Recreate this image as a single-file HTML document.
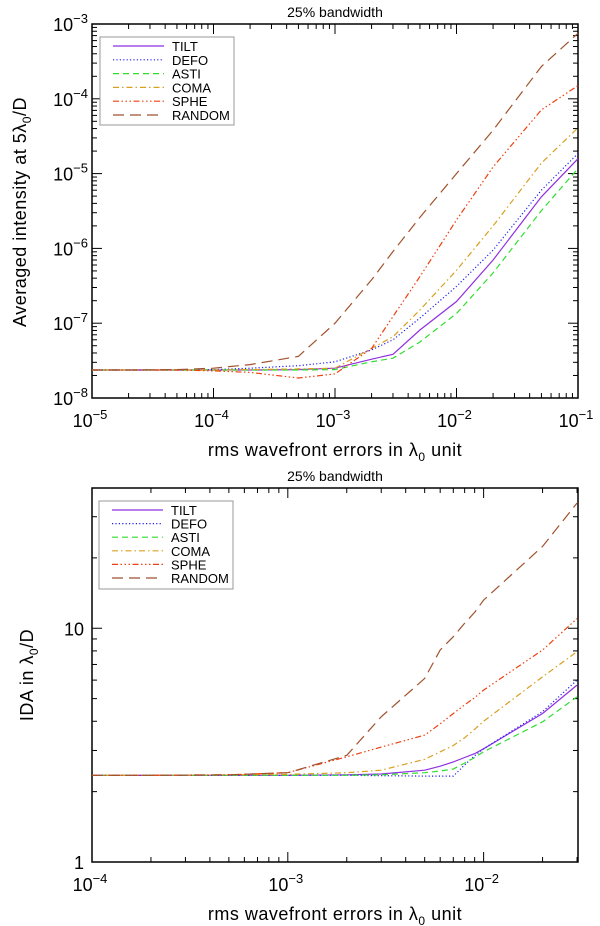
<!DOCTYPE html>
<html><head><meta charset="utf-8"><style>
body{margin:0;background:#fff;}
svg{display:block;font-family:"Liberation Sans","DejaVu Sans",sans-serif;}
</style></head><body>
<svg id="fig" width="600" height="926" viewBox="0 0 600 926"></svg>
<script>
// ---- data: top chart (averaged intensity) ----
const topX = [1e-5, 2e-5, 5e-5, 1e-4, 2e-4, 5e-4, 1e-3, 2e-3, 3e-3, 5e-3, 1e-2, 2e-2, 5e-2, 1e-1];
const topTilt   = [2.37e-8,2.37e-8,2.37e-8,2.37e-8,2.37e-8,2.4e-8,2.5e-8,3.3e-8,3.84e-8,8.1e-8,1.95e-7,7.0e-7,4.9e-6,1.58e-5];
const topDefo   = [2.37e-8,2.37e-8,2.37e-8,2.4e-8,2.5e-8,2.7e-8,3.05e-8,4.4e-8,6.0e-8,1.17e-7,3.1e-7,9.5e-7,6.0e-6,1.86e-5];
const topAsti   = [2.37e-8,2.37e-8,2.37e-8,2.37e-8,2.37e-8,2.37e-8,2.4e-8,3.05e-8,3.4e-8,5.6e-8,1.35e-7,4.7e-7,3.2e-6,1.17e-5];
const topComa   = [2.37e-8,2.37e-8,2.37e-8,2.37e-8,2.4e-8,2.45e-8,2.5e-8,4.6e-8,6.6e-8,1.5e-7,5.1e-7,2.0e-6,1.38e-5,4.1e-5];
const topSphe   = [2.37e-8,2.37e-8,2.37e-8,2.3e-8,2.2e-8,1.85e-8,2.1e-8,4.6e-8,1.23e-7,4.2e-7,2.4e-6,1.23e-5,7.1e-5,1.5e-4];
const topRandom = [2.37e-8,2.37e-8,2.4e-8,2.5e-8,2.8e-8,3.6e-8,1.0e-7,3.8e-7,9.1e-7,2.6e-6,1.0e-5,3.8e-5,2.7e-4,7.5e-4];
const topXTicks = ["-5","-4","-3","-2","-1"];
const topYTicks = ["-8","-7","-6","-5","-4","-3"];
// ---- data: bottom chart (IDA) ----
const botX = [1e-4, 2e-4, 5e-4, 1e-3, 2e-3, 3e-3, 5e-3, 6e-3, 7e-3, 8e-3, 9e-3, 1e-2, 2e-2, 3e-2];
const botTilt   = [2.35,2.35,2.35,2.35,2.36,2.38,2.47,2.57,2.68,2.8,2.91,3.05,4.32,5.71];
const botDefo   = [2.35,2.35,2.35,2.35,2.35,2.34,2.33,2.33,2.33,2.6,2.85,3.05,4.4,6.0];
const botAsti   = [2.35,2.35,2.35,2.35,2.35,2.36,2.41,2.45,2.5,2.65,2.8,2.96,3.98,5.09];
const botComa   = [2.35,2.35,2.36,2.37,2.41,2.47,2.75,2.96,3.15,3.4,3.7,4.0,6.2,7.94];
const botSphe   = [2.35,2.35,2.36,2.41,2.82,3.1,3.49,3.9,4.32,4.7,5.05,5.44,8.07,11.0];
const botRandom = [2.35,2.35,2.36,2.41,2.86,4.18,6.1,8.07,9.2,10.5,11.7,13.2,22.4,34.3];
const botXTicks = ["-4","-3","-2"];
const botYTicks = ["1","10"];

const NS="http://www.w3.org/2000/svg";
const svg=document.getElementById('fig');
function el(tag,attrs,parent){const e=document.createElementNS(NS,tag);for(const k in attrs)e.setAttribute(k,attrs[k]);(parent||svg).appendChild(e);return e;}
const L=Math.log10;

const styles={
 TILT:{c:"#9030e0",d:""},
 DEFO:{c:"#2020ee",d:"1.2,2.2"},
 ASTI:{c:"#30dd30",d:"6,4"},
 COMA:{c:"#d8a020",d:"6,3,1.5,3"},
 SPHE:{c:"#ee4010",d:"6,2.5,1.5,2.5,1.5,2.5,1.5,2.5"},
 RANDOM:{c:"#a0522d",d:"11,6"}
};

function makePlot(cfg){
 const g=el('g',{});
 
 
 const {x0,x1,y0,y1,lx0,lx1,ly0,ly1}=cfg;
 const sx=v=>x0+(L(v)-lx0)/(lx1-lx0)*(x1-x0);
 const sy=v=>y1-(L(v)-ly0)/(ly1-ly0)*(y1-y0);
 // title
 const t=el('text',{x:(x0+x1)/2,y:y0-7,'font-size':14,'text-anchor':'middle'},g);
 t.textContent="25% bandwidth";
 
 // ticks
 const tk=el('g',{stroke:'#000','stroke-width':1},g);
 
 for(let d=Math.floor(lx0);d<=Math.ceil(lx1);d++){for(let m=1;m<10;m++){const lv=d+L(m);if(lv<lx0-1e-9||lv>lx1+1e-9)continue;const x=sx(Math.pow(10,lv));const len=m==1?10:5;
  el('line',{x1:x,y1:y1,x2:x,y2:y1-len},tk);el('line',{x1:x,y1:y0,x2:x,y2:y0+len},tk);}}
 for(let d=Math.floor(ly0);d<=Math.ceil(ly1);d++){for(let m=1;m<10;m++){const lv=d+L(m);if(lv<ly0-1e-9||lv>ly1+1e-9)continue;const y=sy(Math.pow(10,lv));const len=m==1?10:5;
  el('line',{x1:x0,y1:y,x2:x0+len,y2:y},tk);el('line',{x1:x1,y1:y,x2:x1-len,y2:y},tk);}}
 // frame
 const fr=el('rect',{x:x0,y:y0,width:x1-x0,height:y1-y0,fill:'none',stroke:'#000','stroke-width':1.5},g);
 
 // x tick labels
 cfg.xTicks.forEach(e=>{const x=sx(Math.pow(10,+e));
  const tx=el('text',{x:x-2,y:y1+29,'font-size':18,'text-anchor':'middle'},g);
  
  tx.appendChild(document.createTextNode('10'));
  const s=el('tspan',{dy:-8,'font-size':13},tx);s.textContent='\u2212'+e.slice(1);});
 // y tick labels
 cfg.yTicks.forEach(e=>{
  if(cfg.yPow){const y=sy(Math.pow(10,+e));
   const tx=el('text',{x:x0-4,y:y+7,'font-size':18,'text-anchor':'end'},g);
   
   tx.appendChild(document.createTextNode('10'));
   const s=el('tspan',{dy:-8,'font-size':13},tx);s.textContent='\u2212'+e.slice(1);
  } else {const y=sy(+e);
   const tx=el('text',{x:x0-8,y:y+7,'font-size':18,'text-anchor':'end'},g);
   
   tx.textContent=e;}
 });
 // x title
 const xt=el('text',{x:(x0+x1)/2,y:y1+58,'font-size':18,'text-anchor':'middle','letter-spacing':'0.5'},g);
 
 xt.appendChild(document.createTextNode('rms wavefront errors in \u03bb'));
 const xs=el('tspan',{dy:5,'font-size':12},xt);xs.textContent='0';
 const xs2=el('tspan',{dy:-5},xt);xs2.textContent=' unit';
 // y title
 const yt=el('text',{x:0,y:0,'font-size':18,'text-anchor':'middle','letter-spacing':'0.5',transform:`translate(${cfg.ytx},${cfg.yty}) rotate(-90)`},g);
 
 yt.appendChild(document.createTextNode(cfg.yTitle[0]));
 const ys=el('tspan',{dy:5,'font-size':12},yt);ys.textContent='0';
 const ys2=el('tspan',{dy:-5},yt);ys2.textContent=cfg.yTitle[1];
 // series
 const clip=el('clipPath',{id:cfg.name+'-clip'},g);el('rect',{x:x0,y:y0,width:x1-x0,height:y1-y0},clip);
 const sg=el('g',{'clip-path':`url(#${cfg.name}-clip)`},g);
 cfg.series.forEach(([nm,arr])=>{
  const st=styles[nm];
  const pts=cfg.xs.map((v,i)=>sx(v).toFixed(1)+','+sy(arr[i]).toFixed(1)).join(' ');
  const p=el('polyline',{points:pts,fill:'none',stroke:st.c,'stroke-width':1.2,'stroke-dasharray':st.d},sg);
  
  
 });
 // legend
 const lg=el('g',{},g);
 
 const lb=cfg.legend;
 el('rect',{x:lb.x,y:lb.y,width:134,height:lb.h,fill:'#fff',stroke:'#999','stroke-width':1},lg);
 cfg.series.forEach(([nm],i)=>{
  const st=styles[nm];const yy=lb.y+9+i*lb.dy;
  const en=el('g',{},lg);
  
  el('line',{x1:lb.x+13,y1:yy,x2:lb.x+64,y2:yy,stroke:st.c,'stroke-width':1.2,'stroke-dasharray':st.d},en);
  const tt=el('text',{x:lb.x+72,y:yy+5,'font-size':13},en);tt.textContent=nm;
 });
}

makePlot({name:'intensity-chart',x0:92,x1:578,y0:24,y1:398,lx0:-5,lx1:-1,ly0:-8,ly1:-3,
 xTicks:topXTicks,yTicks:topYTicks,yPow:true,xs:topX,ytx:26,yty:212,
 yTitle:['Averaged intensity at 5\u03bb','/D'],
 legend:{x:100,y:37,h:88,dy:13.8},
 series:[['TILT',topTilt],['DEFO',topDefo],['ASTI',topAsti],['COMA',topComa],['SPHE',topSphe],['RANDOM',topRandom]]});

makePlot({name:'ida-chart',x0:92,x1:578,y0:488,y1:862,lx0:-4,lx1:-1.518,ly0:0,ly1:1.6,
 xTicks:botXTicks,yTicks:botYTicks,yPow:false,xs:botX,ytx:33,yty:675,
 yTitle:['IDA in \u03bb','/D'],
 legend:{x:99,y:501,h:88,dy:13.6},
 series:[['TILT',botTilt],['DEFO',botDefo],['ASTI',botAsti],['COMA',botComa],['SPHE',botSphe],['RANDOM',botRandom]]});
</script>
</body></html>
